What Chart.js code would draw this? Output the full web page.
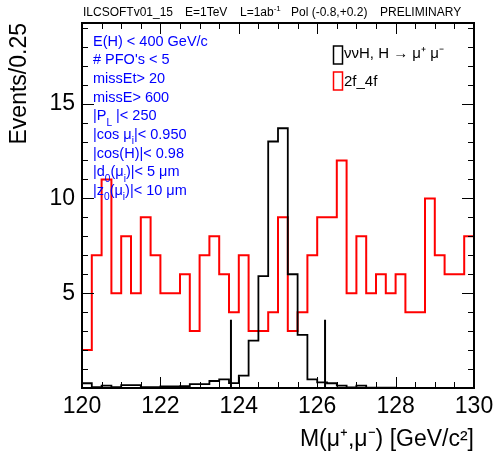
<!DOCTYPE html>
<html>
<head>
<meta charset="utf-8">
<script src="https://cdn.jsdelivr.net/npm/chart.js@4.4.0/dist/chart.umd.min.js"></script>
<style>
  html, body { margin: 0; padding: 0; background: #fff; }
</style>
</head>
<body>
<canvas id="mumu" width="498" height="458"></canvas>
<script>
// low edges of the 0.25 GeV bins
const binEdges = [
  120.00, 120.25, 120.50, 120.75, 121.00, 121.25, 121.50, 121.75,
  122.00, 122.25, 122.50, 122.75, 123.00, 123.25, 123.50, 123.75,
  124.00, 124.25, 124.50, 124.75, 125.00, 125.25, 125.50, 125.75,
  126.00, 126.25, 126.50, 126.75, 127.00, 127.25, 127.50, 127.75,
  128.00, 128.25, 128.50, 128.75, 129.00, 129.25, 129.50, 129.75
];
const xMin = 120, xMax = 130;

// nu nu H, H -> mu mu (signal)
const signal = [
  0.25, 0.05, 0.12, 0.04, 0.15, 0.15, 0.04, 0.04,
  0.08, 0.08, 0.10, 0.20, 0.20, 0.37, 0.45, 0.26,
  0.65, 2.50, 5.90, 13.0, 13.7, 6.00, 2.80, 0.45,
  0.30, 0.25, 0.12, 0.03, 0.12, 0.02, 0.02, 0.02,
  0, 0, 0, 0, 0, 0, 0, 0
];
// 2f_4f background
const bkg = [
  2, 7, 11, 5, 8, 5, 9, 7,
  5, 5, 6, 3, 7, 8, 6, 4,
  7, 3, 3, 4, 9, 3, 4, 7,
  9, 9, 12, 5, 8, 5, 6, 5,
  6, 4, 4, 10, 7, 6, 6, 8
];
// mass window cut lines
const cutX = [123.8, 126.2];
const cutHeight = 3.6;

const xTicks = [120, 122, 124, 126, 128, 130];
const yTicks = [5, 10, 15];
const yMax = 19.25;

const cuts = [
  ['E(H) < 400 GeV/c'],
  ["# PFO's < 5"],
  ['missEt> 20'],
  ['missE> 600'],
  ['|P', ['L'], ' |< 250'],
  ['|cos \u03bc', ['i'], '|< 0.950'],
  ['|cos(H)|< 0.98'],
  ['|d', ['0'], '(\u03bc', ['i'], ')|< 5 \u03bcm'],
  ['|z', ['0'], '(\u03bc', ['i'], ')|< 10 \u03bcm']
];

const FONT = '"Liberation Sans", Arial, sans-serif';

function histPoints(vals) {
  const pts = [{x: binEdges[0], y: 0}];
  vals.forEach((v, i) => pts.push({x: binEdges[i], y: v}));
  pts.push({x: xMax, y: vals[vals.length - 1]});
  pts.push({x: xMax, y: 0});
  return pts;
}

function richText(ctx, x, y, parts, size) {
  parts.forEach(p => {
    const sub = Array.isArray(p);
    const t = sub ? p[0] : p;
    ctx.font = (sub ? size * 0.7 : size) + 'px ' + FONT;
    ctx.fillText(t, x, sub ? y + size * 0.45 : y);
    x += ctx.measureText(t).width;
  });
}

const rootFrame = {
  id: 'rootFrame',
  afterDatasetsDraw(chart) {
    const {ctx, chartArea: a, scales: {x, y}} = chart;
    ctx.save();
    ctx.strokeStyle = '#000';
    ctx.lineWidth = 1;
    ctx.beginPath();
    for (let v = xMin; v <= xMax + 1e-6; v += 0.5) {
      const px = Math.round(x.getPixelForValue(v)) + 0.5;
      const len = Math.abs(v % 2) < 1e-6 ? 11 : 6;
      ctx.moveTo(px, a.bottom); ctx.lineTo(px, a.bottom - len);
      ctx.moveTo(px, a.top); ctx.lineTo(px, a.top + len);
    }
    for (let v = 0; v <= yMax; v += 1) {
      const py = Math.round(y.getPixelForValue(v)) + 0.5;
      const len = v % 5 === 0 ? 12 : 6;
      ctx.moveTo(a.left, py); ctx.lineTo(a.left + len, py);
      ctx.moveTo(a.right, py); ctx.lineTo(a.right - len, py);
    }
    ctx.stroke();
    ctx.lineWidth = 2;
    ctx.strokeRect(a.left, a.top, a.right - a.left, a.bottom - a.top);

    // header
    ctx.fillStyle = '#000';
    ctx.textBaseline = 'middle';
    ctx.font = '12px ' + FONT;
    ctx.fillText('ILCSOFTv01_15', 83, 13);
    ctx.fillText('E=1TeV', 185, 13);
    ctx.fillText('L=1ab', 240, 13);
    const w = ctx.measureText('L=1ab').width;
    ctx.font = '8px ' + FONT;
    ctx.fillText('-1', 240 + w, 9);
    ctx.font = '12px ' + FONT;
    ctx.fillText('Pol (-0.8,+0.2)', 291, 13);
    ctx.fillText('PRELIMINARY', 380, 13);

    // cut list
    ctx.fillStyle = '#0000ff';
    cuts.forEach((line, i) => richText(ctx, 93, 41.5 + i * 18.7, line, 14.5));

    // legend
    ctx.lineWidth = 1.5;
    ctx.strokeStyle = '#000';
    ctx.strokeRect(333.5, 46, 9, 18);
    ctx.strokeStyle = '#ff0000';
    ctx.strokeRect(333.5, 72, 9, 18);
    ctx.fillStyle = '#000';
    ctx.font = '15px ' + FONT;
    ctx.fillText('\u03bd\u03bdH, H \u2192 \u03bc\u207a \u03bc\u207b', 344, 54);
    ctx.fillText('2f_4f', 344, 81.5);
    ctx.restore();
  }
};

const datasets = [
  {
    label: '\u03bd\u03bdH, H \u2192 \u03bc\u207a\u03bc\u207b',
    data: histPoints(signal),
    borderColor: '#000',
    borderWidth: 1.8,
    stepped: 'before',
    order: 1
  },
  {
    label: '2f_4f',
    data: histPoints(bkg),
    borderColor: '#ff0000',
    borderWidth: 2,
    stepped: 'before',
    order: 2
  }
];
cutX.forEach(c => datasets.push({
  label: 'cut',
  data: [{x: c, y: 0}, {x: c, y: cutHeight}],
  borderColor: '#000',
  borderWidth: 2,
  order: 0
}));

Chart.defaults.font.family = FONT;
Chart.defaults.color = '#000';

new Chart(document.getElementById('mumu').getContext('2d'), {
  type: 'line',
  data: { datasets: datasets },
  options: {
    responsive: false,
    animation: false,
    parsing: true,
    elements: { point: { radius: 0 }, line: { tension: 0, fill: false } },
    layout: { padding: { top: 23, right: 24, left: 0, bottom: 0 } },
    plugins: { legend: { display: false }, tooltip: { enabled: false } },
    scales: {
      x: {
        type: 'linear',
        min: xMin,
        max: xMax,
        grid: { display: false, drawTicks: false },
        border: { display: false },
        ticks: {
          stepSize: 2,
          maxRotation: 0,
          autoSkip: false,
          padding: 5,
          font: { size: 23 },
          callback: v => xTicks.includes(v) ? String(v) : ''
        },
        title: {
          display: true,
          text: 'M(\u03bc\u207a,\u03bc\u207b) [GeV/c\u00b2]',
          align: 'end',
          font: { size: 23 },
          padding: { top: 0, bottom: 5 }
        },
        afterFit(s) { s.height = 70; s.paddingLeft = 0; s.paddingRight = 0; }
      },
      y: {
        min: 0,
        max: yMax,
        grid: { display: false, drawTicks: false },
        border: { display: false },
        ticks: {
          stepSize: 5,
          includeBounds: false,
          padding: 7,
          font: { size: 23 },
          callback: v => yTicks.includes(v) ? String(v) : ''
        },
        title: {
          display: true,
          text: 'Events/0.25',
          align: 'end',
          font: { size: 23 },
          padding: { top: 6, bottom: 0 }
        },
        afterFit(s) { s.width = 82; s.paddingTop = 0; s.paddingBottom = 0; }
      }
    }
  },
  plugins: [rootFrame]
});
</script>
</body>
</html>
